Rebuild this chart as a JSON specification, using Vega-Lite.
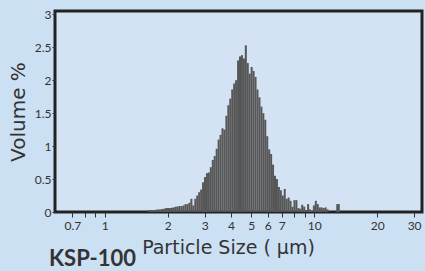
{
  "$schema": "https://vega.github.io/schema/vega-lite/v6.json",
  "width": 367,
  "height": 201,
  "autosize": {"type": "none"},
  "padding": {"left": 55, "top": 11, "right": 3, "bottom": 59},
  "background": "#cce0f4",
  "config": {
    "view": {"fill": "#d3e3f3", "stroke": "#222222", "strokeWidth": 3},
    "font": "Lato"
  },
  "title": {
    "text": "KSP-100",
    "orient": "bottom",
    "anchor": "start",
    "frame": "group",
    "font": "Lato",
    "fontSize": 22,
    "fontWeight": "bold",
    "color": "#333333",
    "dx": -6,
    "offset": -8
  },
  "data": {
    "values": [
      {"d": 1.618, "v": 0.03}, {"d": 1.653, "v": 0.03}, {"d": 1.689, "v": 0.03}, {"d": 1.725, "v": 0.03},
      {"d": 1.763, "v": 0.035}, {"d": 1.801, "v": 0.04}, {"d": 1.840, "v": 0.04}, {"d": 1.879, "v": 0.045},
      {"d": 1.920, "v": 0.05}, {"d": 1.962, "v": 0.06}, {"d": 2.004, "v": 0.06}, {"d": 2.048, "v": 0.06},
      {"d": 2.092, "v": 0.065}, {"d": 2.137, "v": 0.07}, {"d": 2.183, "v": 0.08}, {"d": 2.231, "v": 0.085},
      {"d": 2.279, "v": 0.09}, {"d": 2.328, "v": 0.09}, {"d": 2.379, "v": 0.1}, {"d": 2.430, "v": 0.12},
      {"d": 2.483, "v": 0.12}, {"d": 2.536, "v": 0.14}, {"d": 2.591, "v": 0.2}, {"d": 2.647, "v": 0.1},
      {"d": 2.705, "v": 0.2}, {"d": 2.763, "v": 0.25}, {"d": 2.823, "v": 0.3}, {"d": 2.884, "v": 0.34},
      {"d": 2.946, "v": 0.45}, {"d": 3.010, "v": 0.53}, {"d": 3.075, "v": 0.59}, {"d": 3.141, "v": 0.6},
      {"d": 3.209, "v": 0.68}, {"d": 3.279, "v": 0.79}, {"d": 3.349, "v": 0.85}, {"d": 3.422, "v": 0.96},
      {"d": 3.496, "v": 1.1}, {"d": 3.571, "v": 1.17}, {"d": 3.648, "v": 1.27}, {"d": 3.727, "v": 1.25},
      {"d": 3.808, "v": 1.46}, {"d": 3.890, "v": 1.62}, {"d": 3.974, "v": 1.72}, {"d": 4.060, "v": 1.86},
      {"d": 4.148, "v": 1.95}, {"d": 4.237, "v": 2.0}, {"d": 4.329, "v": 2.3}, {"d": 4.422, "v": 2.36},
      {"d": 4.518, "v": 2.38}, {"d": 4.616, "v": 2.33}, {"d": 4.715, "v": 2.53}, {"d": 4.817, "v": 2.26},
      {"d": 4.921, "v": 2.1}, {"d": 5.028, "v": 2.2}, {"d": 5.136, "v": 2.14}, {"d": 5.247, "v": 2.05},
      {"d": 5.361, "v": 1.86}, {"d": 5.477, "v": 1.74}, {"d": 5.595, "v": 1.6}, {"d": 5.716, "v": 1.5},
      {"d": 5.840, "v": 1.4}, {"d": 5.966, "v": 1.15}, {"d": 6.095, "v": 0.95}, {"d": 6.227, "v": 0.88},
      {"d": 6.361, "v": 0.72}, {"d": 6.499, "v": 0.55}, {"d": 6.639, "v": 0.5}, {"d": 6.783, "v": 0.38},
      {"d": 6.929, "v": 0.33}, {"d": 7.079, "v": 0.25}, {"d": 7.232, "v": 0.35}, {"d": 7.389, "v": 0.2},
      {"d": 7.548, "v": 0.22}, {"d": 7.712, "v": 0.17}, {"d": 7.878, "v": 0.08}, {"d": 8.049, "v": 0.18},
      {"d": 8.223, "v": 0.18}, {"d": 8.400, "v": 0.06}, {"d": 8.582, "v": 0.05}, {"d": 8.767, "v": 0.11},
      {"d": 8.957, "v": 0.08}, {"d": 9.151, "v": 0.03}, {"d": 9.349, "v": 0.12}, {"d": 9.551, "v": 0.04},
      {"d": 9.757, "v": 0.02}, {"d": 9.968, "v": 0.1}, {"d": 10.18, "v": 0.17}, {"d": 10.40, "v": 0.12},
      {"d": 10.63, "v": 0.07}, {"d": 10.86, "v": 0.07}, {"d": 11.10, "v": 0.06}, {"d": 11.34, "v": 0.07},
      {"d": 11.58, "v": 0.04}, {"d": 12.89, "v": 0.12}, {"d": 13.10, "v": 0.12}
    ]
  },
  "mark": {"type": "bar", "width": 2, "color": "#575757"},
  "encoding": {
    "x": {
      "field": "d",
      "type": "quantitative",
      "scale": {"type": "log", "domain": [0.611, 30.97], "nice": false},
      "axis": {
        "values": [0.7, 0.8, 0.9, 1, 2, 3, 4, 5, 6, 7, 8, 9, 10, 20, 30],
        "labelExpr": "(datum.value == 0.8 || datum.value == 0.9 || datum.value == 8 || datum.value == 9) ? '' : toString(datum.value)",
        "title": "Particle Size ( μm)",
        "titleFont": "DejaVu Sans",
        "titleFontSize": 19,
        "titleFontWeight": "normal",
        "titleColor": "#333333",
        "titlePadding": 7,
        "titleX": 173,
        "domain": false,
        "grid": false,
        "ticks": true,
        "tickSize": 5,
        "tickColor": "#333333",
        "labelFontSize": 12,
        "labelColor": "#333333",
        "labelPadding": 3,
        "labelOverlap": false,
        "labelFlush": false
      }
    },
    "y": {
      "field": "v",
      "type": "quantitative",
      "scale": {"domain": [0, 3.05], "nice": false},
      "axis": {
        "values": [0, 0.5, 1, 1.5, 2, 2.5, 3],
        "labelExpr": "toString(datum.value)",
        "title": "Volume %",
        "titleFont": "DejaVu Sans",
        "titleFontSize": 20,
        "titleFontWeight": "normal",
        "titleColor": "#333333",
        "titlePadding": 6,
        "domain": false,
        "grid": false,
        "tickSize": 3,
        "tickColor": "#333333",
        "labelFontSize": 12,
        "labelColor": "#333333",
        "labelPadding": 1
      }
    }
  }
}
